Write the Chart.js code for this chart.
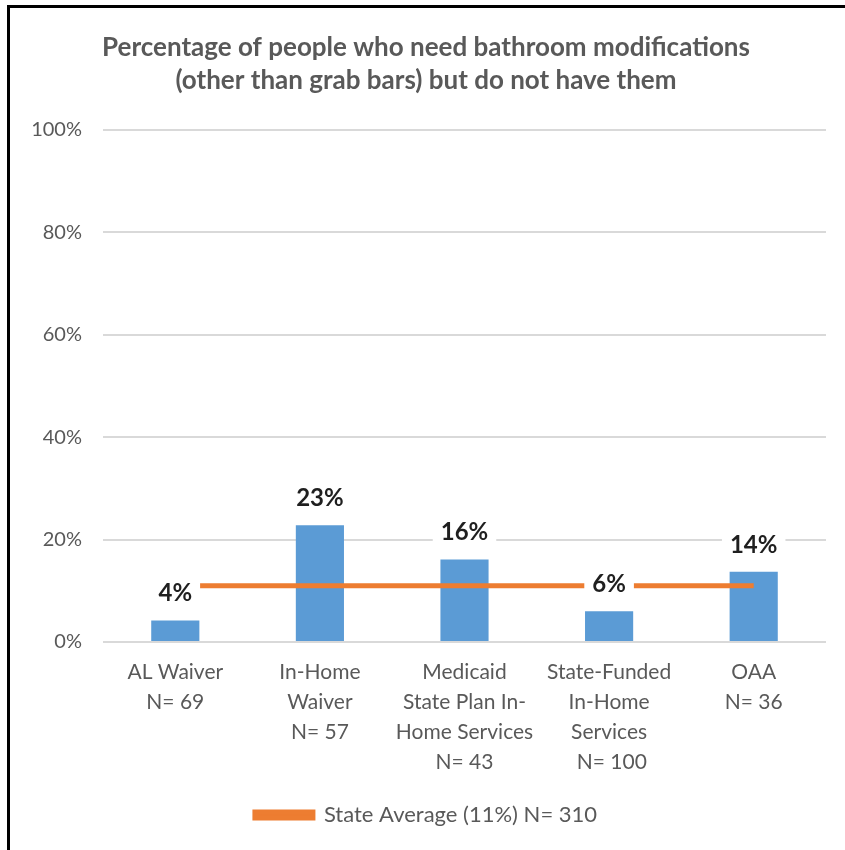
<!DOCTYPE html>
<html>
<head>
<meta charset="utf-8">
<script src="https://cdn.jsdelivr.net/npm/chart.js@4.4.1/dist/chart.umd.min.js"></script>
<style>
  body { margin: 0; background: #fff; }
  canvas { display: block; }
</style>
</head>
<body>
<canvas id="chart" width="845" height="850"></canvas>
<script>
// values
var categories = [
  ['AL Waiver', 'N= 69'],
  ['In-Home', 'Waiver', 'N= 57'],
  ['Medicaid', 'State Plan In-', 'Home Services', 'N= 43'],
  ['State-Funded', 'In-Home', 'Services', ' N= 100'],
  ['OAA', 'N= 36']
];
var programValues = [4.2, 22.8, 16.1, 6.0, 13.7];
var stateAverage = [11, 11, 11, 11, 11];
var averageLabel = 'State Average (11%) N= 310';
var titleLines = [
  'Percentage of people who need bathroom modifications',
  '(other than grab bars) but do not have them'
];
var yTicks = [0, 20, 40, 60, 80, 100];

var grey = '#595959';
var fontName = 'Lato, "Open Sans", sans-serif';

var frame = {
  id: 'frame',
  beforeDraw: function(chart) {
    var c = chart.ctx;
    c.save();
    c.fillStyle = '#fff';
    c.fillRect(0, 0, chart.width, chart.height);
    c.fillStyle = '#000';
    c.fillRect(7, 5, 3, chart.height - 5);
    c.fillRect(7, 5, chart.width - 7, 3);
    c.restore();
  }
};

var valueLabels = {
  id: 'valueLabels',
  afterDatasetsDraw: function(chart) {
    var c = chart.ctx;
    var meta = chart.getDatasetMeta(0);
    c.save();
    c.font = 'bold 24px ' + fontName;
    c.textAlign = 'center';
    c.textBaseline = 'middle';
    meta.data.forEach(function(bar, i) {
      var txt = Math.round(programValues[i]) + '%';
      var w = c.measureText(txt).width + 16;
      var y = bar.y - 27;
      c.fillStyle = '#fff';
      c.fillRect(bar.x - w / 2, y - 14, w, 28);
      c.fillStyle = '#1f1f1f';
      c.fillText(txt, bar.x, y);
    });
    c.restore();
  }
};

new Chart(document.getElementById('chart'), {
  type: 'bar',
  data: {
    labels: categories,
    datasets: [{
      label: 'Programs',
      data: programValues,
      backgroundColor: '#5B9BD5',
      categoryPercentage: 1,
      barPercentage: 0.333,
      order: 1
    }, {
      type: 'line',
      label: averageLabel,
      data: stateAverage,
      borderColor: '#ED7D31',
      backgroundColor: '#ED7D31',
      borderWidth: 5,
      pointRadius: 0,
      order: 0
    }]
  },
  options: {
    responsive: false,
    animation: false,
    layout: { padding: { left: 26, right: 19, top: 0, bottom: 14 } },
    scales: {
      x: {
        grid: { display: false },
        border: { display: false },
        ticks: {
          color: grey,
          font: { family: fontName, size: 21, lineHeight: 1.43 },
          maxRotation: 0,
          autoSkip: false,
          padding: 7
        },
        afterFit: function(s) { s.height = 152; }
      },
      y: {
        min: 0,
        max: 100,
        afterBuildTicks: function(s) {
          s.ticks = yTicks.map(function(v) { return { value: v }; });
        },
        grid: { color: '#d9d9d9', lineWidth: 2, drawTicks: false },
        border: { display: false },
        ticks: {
          color: grey,
          font: { family: fontName, size: 20 },
          padding: 21,
          callback: function(v) { return v + '%'; }
        },
        afterFit: function(s) { s.width = 77; }
      }
    },
    plugins: {
      title: {
        display: true,
        text: titleLines,
        color: grey,
        font: { family: fontName, size: 26, weight: 'bold', lineHeight: 1.27 },
        padding: { top: 31, bottom: 33 }
      },
      legend: {
        position: 'bottom',
        labels: {
          color: grey,
          font: { family: fontName, size: 22 },
          boxWidth: 58,
          boxHeight: 6,
          filter: function(item) { return item.datasetIndex === 1; }
        }
      },
      tooltip: { enabled: false }
    }
  },
  plugins: [frame, valueLabels]
});
</script>
</body>
</html>
